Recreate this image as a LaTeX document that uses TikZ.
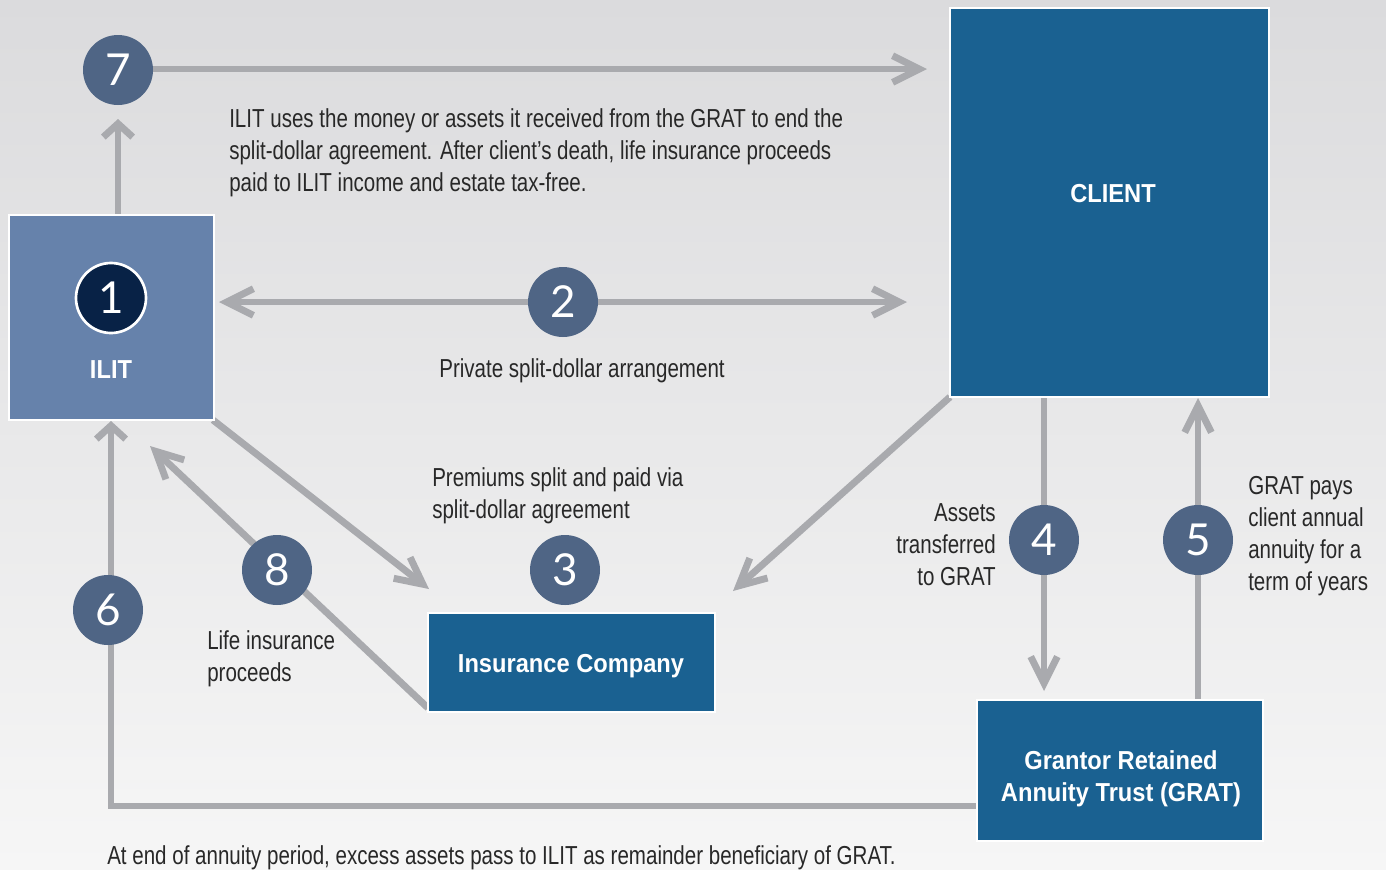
\documentclass[tikz,border=0pt]{standalone}
\usepackage{fontspec}
\setmainfont{Liberation Sans}[FakeStretch=0.79]
\newfontfamily\boxfont{Liberation Sans}[FakeStretch=0.91]
\newfontfamily\numfont{Lato}
\usetikzlibrary{arrows.meta}
\pgfdeclarelayer{back}
\pgfdeclarelayer{lines}
\pgfsetlayers{back,lines,main}
\definecolor{bgtop}{RGB}{219,219,221}
\definecolor{bgbot}{RGB}{246,246,246}
\definecolor{ilitblue}{RGB}{102,130,171}
\definecolor{darkblue}{RGB}{26,97,145}
\definecolor{navy}{RGB}{8,34,70}
\definecolor{circ}{RGB}{79,101,133}
\definecolor{arrowgray}{RGB}{169,170,174}
\definecolor{txt}{RGB}{40,40,40}
\tikzset{
  box/.style={draw=white, line width=2.2pt, inner sep=0pt},
  boxlabel/.style={text=white, font=\boxfont\bfseries\fontsize{19.5}{24}\selectfont, align=center, inner sep=0pt},
  numcirc/.style={circle, fill=circ, minimum size=70*0.75pt, inner sep=0pt, text=white, font=\numfont\fontsize{33}{33}\selectfont},
  conn/.style={draw=arrowgray, line width=5.2pt, arrows={-Straight Barb[length=20pt,width=20pt]}},
  connshort/.style={draw=arrowgray, line width=5.2pt, arrows={-Straight Barb[length=10pt,width=22pt]}},
  body/.style={text=txt, font=\fontsize{19.5}{24}\selectfont, inner sep=0pt},
}
\begin{document}
\begin{tikzpicture}[x=0.75pt, y=-0.75pt]
\useasboundingbox (0,0) rectangle (1386,869);
\begin{pgfonlayer}{back}
\shade[top color=bgtop, bottom color=bgbot] (0,0) rectangle (1386,869);
\end{pgfonlayer}

% boxes
\node[box, fill=ilitblue, minimum width=205*0.75pt, minimum height=205*0.75pt] (ilit) at (111.5,317.5) {};
\node[box, fill=darkblue, minimum width=319*0.75pt, minimum height=389*0.75pt] (client) at (1109.5,202.5) {};
\node[box, fill=darkblue, minimum width=287*0.75pt, minimum height=99*0.75pt] (ins) at (571.5,662.5) {};
\node[box, fill=darkblue, minimum width=286*0.75pt, minimum height=141*0.75pt] (grat) at (1120,770.5) {};

\node[boxlabel] (ilitlab) at (111,370) {ILIT};
\node[boxlabel] (clientlab) at (1113,194) {CLIENT};
\node[boxlabel] (inslab) at (571,666) {Insurance Company};
\node[boxlabel] (gratlab) at (1121,779) {Grantor Retained\\Annuity Trust (GRAT)};

% coordinates for free arrow ends
\coordinate (a7end) at (927,69);
\coordinate (ilittop) at (118,215);
\coordinate (a1tip) at (118,119);
\coordinate (a2l) at (219,302);
\coordinate (a2r) at (907,302);
\coordinate (ilitbr) at (213,420);
\coordinate (a3tip) at (429,589);
\coordinate (clientbl) at (950,397);
\coordinate (cltip) at (733,591);
\coordinate (a4top) at (1044,397);
\coordinate (a4tip) at (1044,691);
\coordinate (a5bot) at (1198,700);
\coordinate (a5tip) at (1198,398);
\coordinate (gratl) at (977,806);
\coordinate (corner6) at (111,806);
\coordinate (a6tip) at (111,421);
\coordinate (insbl) at (428,708);
\coordinate (a8tip) at (150,446);

% circles
\node[numcirc] (c7) at (118,70) {7};
\node[numcirc] (c2) at (563,302) {2};
\node[numcirc] (c3) at (565,570) {3};
\node[numcirc] (c4) at (1044,540) {4};
\node[numcirc] (c5) at (1198,540) {5};
\node[numcirc] (c6) at (108,610) {6};
\node[numcirc] (c8) at (277,570) {8};
\node[circle, fill=navy, draw=white, line width=2pt, minimum size=70*0.75pt, inner sep=0pt, text=white, font=\numfont\fontsize{33}{33}\selectfont] (c1) at (111,298) {1};

% connectors
\begin{pgfonlayer}{lines}
\path[conn] (c7.center |- a7end) -- (a7end);
\path[connshort] (ilittop) -- (a1tip);
\path[conn] (c2.center) -- (a2l);
\path[conn] (c2.center) -- (a2r);
\path[conn] (ilitbr) -- (a3tip);
\path[conn] (clientbl) -- (cltip);
\path[conn] (a4top) -- (a4tip);
\path[conn] (a5bot) -- (a5tip);
\path[connshort] (gratl) -- (corner6) -- (a6tip);
\path[conn] (insbl) -- (a8tip);
\end{pgfonlayer}

% texts
\node[body, anchor=north west, align=left] (t7) at (229,108) {ILIT uses the money or assets it received from the GRAT to end the\\split-dollar agreement. After client’s death, life insurance proceeds\\paid to ILIT income and estate tax-free.};
\node[body, anchor=north] (t2) at (582,358) {Private split-dollar arrangement};
\node[body, anchor=north west, align=left] (t3) at (432,467) {Premiums split and paid via\\split-dollar agreement};
\node[body, anchor=north east, align=right] (t4) at (996,503) {Assets\\transferred\\to GRAT};
\node[body, anchor=north west, align=left] (t5) at (1248,476) {GRAT pays\\client annual\\annuity for a\\term of years};
\node[body, anchor=north west, align=left] (t8) at (207,630) {Life insurance\\proceeds};
\node[body, anchor=north west] (t6) at (107,845) {At end of annuity period, excess assets pass to ILIT as remainder beneficiary of GRAT.};
\end{tikzpicture}
\end{document}
